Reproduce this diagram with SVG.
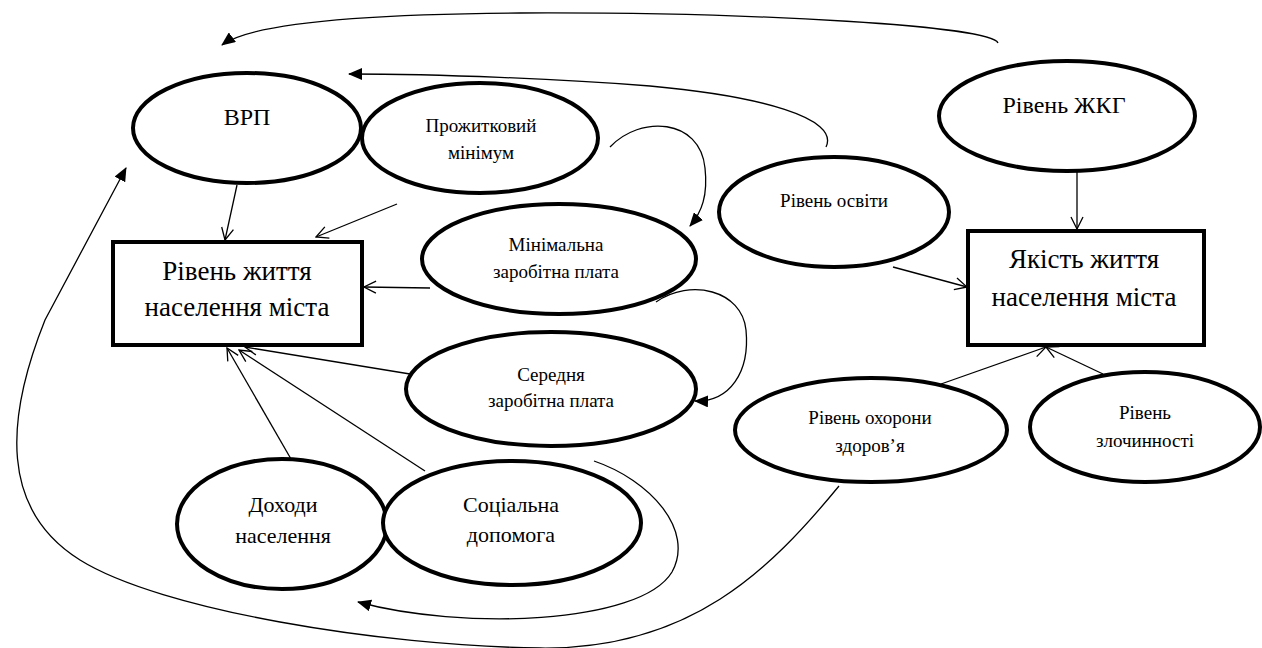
<svg xmlns="http://www.w3.org/2000/svg" width="1262" height="648" viewBox="0 0 1262 648">
<defs>
<style>
.node ellipse, .node rect { fill: #fff; stroke: #000; stroke-width: 4; }
.node text { font-family: "Liberation Serif", "DejaVu Serif", serif; fill: #000; text-anchor: middle; }
.s19 { font-size: 19px; }
.s22 { font-size: 22px; }
.s24 { font-size: 24px; }
.s27 { font-size: 27px; }
.conn path, .conn line { fill: none; stroke: #000; stroke-width: 1.3; }
.open { marker-end: url(#openArrow); }
.filled { marker-end: url(#filledArrow); }
</style>
<marker id="openArrow" viewBox="0 0 14 14" refX="13" refY="7" markerWidth="14" markerHeight="14" markerUnits="userSpaceOnUse" orient="auto">
<path d="M1,1 L13,7 L1,13" fill="none" stroke="#000" stroke-width="1.3"/>
</marker>
<marker id="filledArrow" viewBox="0 0 14 12" refX="13" refY="6" markerWidth="14" markerHeight="12" markerUnits="userSpaceOnUse" orient="auto">
<path d="M0,0 L14,6 L0,12 Z" fill="#000"/>
</marker>
</defs>
<rect width="1262" height="648" fill="#fff"/>

<g class="conn">
<path class="filled" d="M998,43 C992,26 760,12 520,13 C360,14 250,24 222,45"/>
<path class="filled" d="M826,147 C840,118 760,96 650,86 C560,79 440,74 349,74"/>
<line class="open" x1="237" y1="185" x2="225" y2="240"/>
<line class="open" x1="397" y1="204" x2="316" y2="237"/>
<line class="open" x1="430" y1="288" x2="364" y2="287"/>
<path class="filled" d="M610,147 C640,115 700,118 705,168 C708,195 702,212 690,226"/>
<path class="filled" d="M656,302 C690,278 742,290 746,330 C750,372 730,402 695,401"/>
<line class="open" x1="410" y1="374" x2="245" y2="347"/>
<line class="open" x1="425" y1="471" x2="239" y2="350"/>
<line class="open" x1="291" y1="459" x2="227" y2="348"/>
<path class="filled" d="M594,461 C650,480 695,530 672,572 C640,625 460,630 358,602"/>
<path class="filled" d="M839,486 C770,570 690,650 540,648 C380,646 160,610 80,560 C0,510 5,420 45,320 L126,168"/>
<line class="open" x1="1077" y1="172" x2="1077" y2="229"/>
<line class="open" x1="893" y1="267" x2="967" y2="287"/>
<line class="open" x1="941" y1="384" x2="1046" y2="347"/>
<line class="open" x1="1103" y1="374" x2="1046" y2="347"/>
</g>

<g id="vrp" class="node">
<ellipse cx="247" cy="128" rx="114" ry="55"/>
<text class="s24" x="247" y="125">ВРП</text>
</g>
<g id="prozh" class="node">
<ellipse cx="480" cy="138" rx="118" ry="55"/>
<text class="s19" x="481" y="132">Прожитковий</text>
<text class="s19" x="481" y="159">мінімум</text>
</g>
<g id="riven-zhyttia" class="node">
<rect x="113" y="242" width="249" height="103"/>
<text class="s27" x="237" y="280">Рівень життя</text>
<text class="s27" x="237" y="316">населення міста</text>
</g>
<g id="min-zp" class="node">
<ellipse cx="559" cy="259" rx="137" ry="55"/>
<text class="s19" x="556" y="251">Мінімальна</text>
<text class="s19" x="556" y="278">заробітна плата</text>
</g>
<g id="osvita" class="node">
<ellipse cx="834" cy="212" rx="115" ry="55"/>
<text class="s19" x="834" y="207">Рівень освіти</text>
</g>
<g id="zhkg" class="node">
<ellipse cx="1067" cy="116" rx="128" ry="55"/>
<text class="s24" x="1064" y="113">Рівень ЖКГ</text>
</g>
<g id="yakist" class="node">
<rect x="968" y="231" width="236" height="114"/>
<text class="s27" x="1084" y="268">Якість життя</text>
<text class="s27" x="1084" y="306">населення міста</text>
</g>
<g id="sered-zp" class="node">
<ellipse cx="551" cy="389" rx="145" ry="57"/>
<text class="s19" x="551" y="381">Середня</text>
<text class="s19" x="551" y="407">заробітна плата</text>
</g>
<g id="okhorona" class="node">
<ellipse cx="871" cy="430" rx="136" ry="52"/>
<text class="s19" x="870" y="424">Рівень охорони</text>
<text class="s19" x="870" y="452">здоров’я</text>
</g>
<g id="zlochynnist" class="node">
<ellipse cx="1145" cy="427" rx="115" ry="55"/>
<text class="s19" x="1145" y="419">Рівень</text>
<text class="s19" x="1145" y="447">злочинності</text>
</g>
<g id="dokhody" class="node">
<ellipse cx="282" cy="524" rx="105" ry="65"/>
<text class="s22" x="283" y="512">Доходи</text>
<text class="s22" x="283" y="543">населення</text>
</g>
<g id="dopomoga" class="node">
<ellipse cx="512" cy="523" rx="129" ry="62"/>
<text class="s22" x="511" y="512">Соціальна</text>
<text class="s22" x="511" y="542">допомога</text>
</g>
</svg>
